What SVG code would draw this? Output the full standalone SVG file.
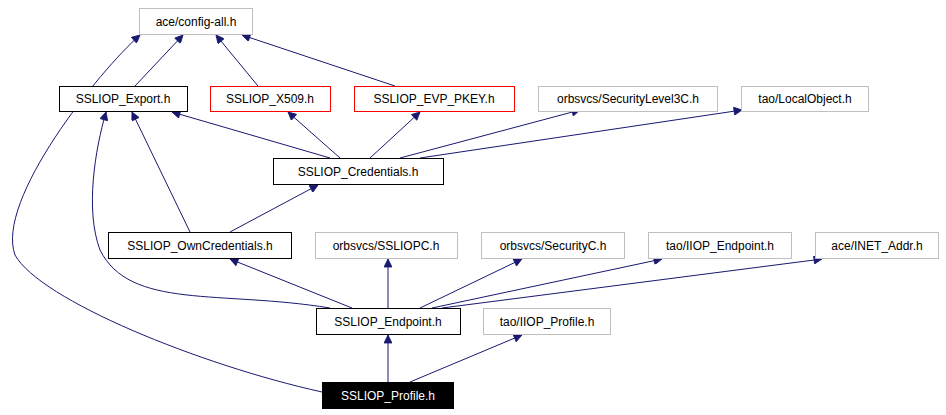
<svg xmlns="http://www.w3.org/2000/svg" width="946" height="415" viewBox="0 0 946 415">
<style>
.n rect{fill:#fff;stroke-width:1}
.k rect{stroke:#000}.g rect{stroke:#bfbfbf}.r rect{stroke:#f00}
text{font-family:"Liberation Sans",Arial,sans-serif;font-size:12px;text-anchor:middle;fill:#000}
#edges path{fill:none;stroke:#191970;stroke-width:1;marker-end:url(#a)}
</style>
<defs><marker id="a" viewBox="0 0 10 10" refX="10" refY="5" markerWidth="10" markerHeight="8" markerUnits="userSpaceOnUse" orient="auto"><path d="M0,0L10,5L0,10z" fill="#191970" stroke="#191970"/></marker></defs>
<rect width="946" height="415" fill="#fff"/>
<g id="edges">
<path d="M135,86L183,35"/>
<path d="M258,86L216,35"/>
<path d="M395,86L242,35"/>
<path d="M322,392C200,365 40,300 15,255C-5,200 100,70 140,35"/>
<path d="M330,158L172,112"/>
<path d="M340,158L288,112"/>
<path d="M370,158L420,112"/>
<path d="M400,158L580,110"/>
<path d="M420,158L742,110"/>
<path d="M190,232L132,112"/>
<path d="M230,232L318,185"/>
<path d="M330,308C220,290 130,310 100,250C85,210 95,150 106,112"/>
<path d="M352,308L230,259"/>
<path d="M388,308L388,259"/>
<path d="M420,308L522,259"/>
<path d="M432,308L662,259"/>
<path d="M442,308L822,259"/>
<path d="M388,382L388,335"/>
<path d="M410,382L522,335"/>
</g>
<g id="config-all" class="n g"><rect x="139.5" y="8.5" width="113" height="26"/><text x="196" y="26">ace/config-all.h</text></g>
<g id="export" class="n k"><rect x="59.5" y="86.5" width="128" height="25"/><text x="123" y="103">SSLIOP_Export.h</text></g>
<g id="x509" class="n r"><rect x="210.5" y="86.5" width="120" height="25"/><text x="270" y="103">SSLIOP_X509.h</text></g>
<g id="evp" class="n r"><rect x="354.5" y="86.5" width="160" height="25"/><text x="434" y="103">SSLIOP_EVP_PKEY.h</text></g>
<g id="seclevel3" class="n g"><rect x="538.5" y="86.5" width="179" height="25"/><text x="628" y="103">orbsvcs/SecurityLevel3C.h</text></g>
<g id="localobject" class="n g"><rect x="741.5" y="86.5" width="127" height="25"/><text x="805" y="103">tao/LocalObject.h</text></g>
<g id="credentials" class="n k"><rect x="273.5" y="158.5" width="170" height="26"/><text x="358" y="176">SSLIOP_Credentials.h</text></g>
<g id="owncredentials" class="n k"><rect x="108.5" y="232.5" width="183" height="26"/><text x="200" y="250">SSLIOP_OwnCredentials.h</text></g>
<g id="ssliopc" class="n g"><rect x="315.5" y="232.5" width="142" height="26"/><text x="386" y="250">orbsvcs/SSLIOPC.h</text></g>
<g id="securityc" class="n g"><rect x="481.5" y="232.5" width="143" height="26"/><text x="553" y="250">orbsvcs/SecurityC.h</text></g>
<g id="iiopendpoint" class="n g"><rect x="648.5" y="232.5" width="143" height="26"/><text x="720" y="250">tao/IIOP_Endpoint.h</text></g>
<g id="inetaddr" class="n g"><rect x="815.5" y="232.5" width="123" height="26"/><text x="877" y="250">ace/INET_Addr.h</text></g>
<g id="endpoint" class="n k"><rect x="316.5" y="308.5" width="144" height="26"/><text x="388" y="326">SSLIOP_Endpoint.h</text></g>
<g id="iiopprofile" class="n g"><rect x="483.5" y="308.5" width="127" height="26"/><text x="547" y="326">tao/IIOP_Profile.h</text></g>
<g id="profile"><rect x="322.5" y="382.5" width="131" height="26" fill="#000" stroke="#000"/><text x="388" y="400" style="fill:#fff">SSLIOP_Profile.h</text></g>
</svg>
